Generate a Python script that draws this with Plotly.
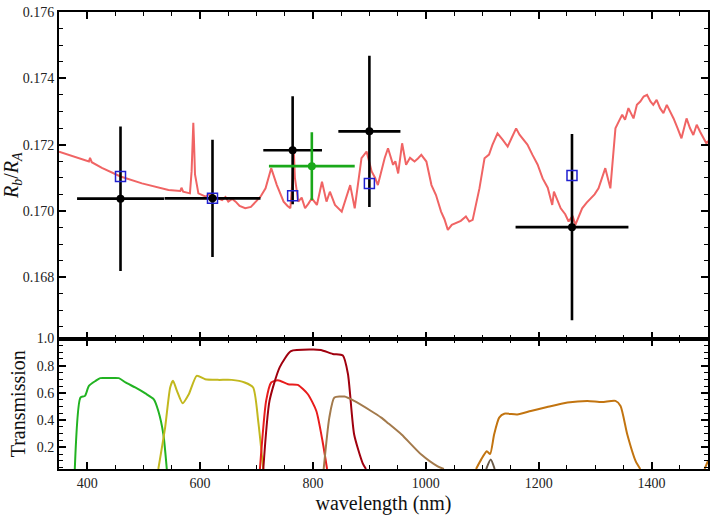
import plotly.graph_objects as go
from plotly.subplots import make_subplots

# ---------------- data ----------------
# model spectrum (wavelength nm, Rb/RA)
spec_wl = [350, 403, 405, 408, 426, 459, 497, 544, 565, 567, 570, 582, 585, 587, 588, 589, 591, 597,
           610, 615, 632, 639, 645, 650, 657, 663, 670, 680, 690, 698, 707, 716, 726, 736, 742, 748,
           755, 760, 764, 766, 768, 774, 780, 786, 792, 798,
           807, 816, 824, 830, 839, 851, 866, 874, 886, 895, 904, 910, 915, 921, 927, 933, 937, 942,
           946, 951, 958, 965, 972, 980, 986, 992, 1001, 1010, 1018, 1027, 1033, 1039, 1046, 1054,
           1062, 1071, 1077, 1083, 1095, 1104, 1112, 1118, 1127, 1136, 1145, 1152,
           1160, 1166, 1171, 1180, 1189, 1198, 1207, 1216, 1224, 1227, 1239, 1247, 1253, 1260, 1265,
           1272, 1277, 1285, 1292, 1299, 1306, 1318, 1327, 1336, 1342,
           1348, 1353, 1359, 1368, 1374, 1380, 1386, 1392, 1398, 1403, 1409, 1415, 1421, 1427, 1433,
           1439, 1446, 1453, 1462, 1468, 1474, 1480, 1486, 1492, 1497, 1503]
spec_val = [0.17179, 0.17149, 0.17160, 0.17147, 0.17130, 0.17104, 0.17083, 0.17063, 0.17060, 0.17070,
            0.17058, 0.17053, 0.17120, 0.17220, 0.17266, 0.17220, 0.17110, 0.17053,
            0.17043, 0.17050, 0.17038, 0.17033, 0.17042, 0.17028, 0.17036, 0.17028, 0.17015, 0.17008,
            0.17012, 0.17028, 0.17043, 0.17068, 0.17129, 0.17078, 0.17050, 0.17028,
            0.17015, 0.17008, 0.17100, 0.17185, 0.17100, 0.17028, 0.17040, 0.17008, 0.17022, 0.17038,
            0.17018, 0.17088, 0.17028, 0.17058, 0.17018, 0.16998, 0.17078, 0.17008, 0.17159, 0.17179,
            0.17119, 0.17100, 0.17078, 0.17120, 0.17159, 0.17189, 0.17165, 0.17139,
            0.17150, 0.17113, 0.17204, 0.17139, 0.17160, 0.17149, 0.17158, 0.17169, 0.17149, 0.17078,
            0.17048, 0.16998, 0.16975, 0.16943, 0.16958, 0.16963,
            0.16970, 0.16983, 0.16968, 0.16973, 0.17068, 0.17159, 0.17170, 0.17199, 0.17234, 0.17215,
            0.17194, 0.17220,
            0.17249, 0.17230, 0.17219, 0.17200, 0.17169, 0.17140, 0.17098, 0.17070, 0.17018, 0.17058,
            0.17008, 0.16990, 0.16968, 0.16985, 0.16958,
            0.16990, 0.17008, 0.17025, 0.17038, 0.17050, 0.17068, 0.17129, 0.17068, 0.17249, 0.17270,
            0.17290, 0.17275, 0.17310, 0.17279, 0.17320, 0.17330, 0.17345, 0.17350, 0.17330, 0.17320,
            0.17335, 0.17310, 0.17295, 0.17320, 0.17300,
            0.17279, 0.17250, 0.17219, 0.17279, 0.17250, 0.17229, 0.17260, 0.17239, 0.17220, 0.17204,
            0.17215]

# measured points
obs_wl = [459, 622, 764, 900, 1259]
obs_val = [0.17037, 0.17038, 0.17183, 0.17240, 0.16951]
obs_yerr = [0.00218, 0.00177, 0.00163, 0.00228, 0.00281]
obs_xerr = [77, 85, 52, 55, 100]

green_wl = [798]
green_val = [0.17135]
green_yerr = [0.00102]
green_xerr = [76]

# band-integrated model
model_wl = [459, 622, 764, 900, 1259]
model_val = [0.17104, 0.17038, 0.17046, 0.17083, 0.17107]

# filter transmission curves
f_green_wl = [378, 388, 396, 403, 415, 423, 438, 456, 468, 485, 503, 518, 526, 535, 541]
f_green_t = [0.04, 0.566, 0.578, 0.652, 0.689, 0.709, 0.709, 0.709, 0.677, 0.640, 0.596, 0.553, 0.467, 0.294, 0.04]

f_yellow_wl = [526, 538, 547, 552, 559, 569, 580, 594, 609, 632, 656, 679, 694, 703, 712]
f_yellow_t = [0.04, 0.344, 0.640, 0.689, 0.615, 0.524, 0.590, 0.726, 0.701, 0.696, 0.696, 0.677, 0.640, 0.393, 0.04]

f_red_wl = [706, 717, 726, 738, 756, 773, 791, 806, 817, 825]
f_red_t = [0.04, 0.541, 0.677, 0.694, 0.664, 0.659, 0.590, 0.467, 0.244, 0.04]

f_dred_wl = [712, 723, 741, 761, 797, 814, 835, 853, 862, 873, 888, 894]
f_dred_t = [0.04, 0.541, 0.788, 0.907, 0.919, 0.916, 0.887, 0.875, 0.739, 0.294, 0.084, 0.04]

f_brown_wl = [819, 829, 838, 856, 873, 903, 921, 932, 957, 992, 1021, 1032]
f_brown_t = [0.04, 0.418, 0.566, 0.573, 0.541, 0.467, 0.418, 0.381, 0.294, 0.146, 0.059, 0.04]

f_gray_wl = [1107, 1115, 1122]
f_gray_t = [0.04, 0.11, 0.04]

f_orange_wl = [1089, 1098, 1108, 1114, 1121, 1130, 1139, 1162, 1186, 1215, 1251, 1286, 1312, 1336,
               1345, 1357, 1372, 1380]
f_orange_t = [0.04, 0.109, 0.170, 0.151, 0.294, 0.418, 0.447, 0.442, 0.467, 0.496, 0.529, 0.541,
              0.533, 0.541, 0.504, 0.294, 0.096, 0.04]
f_orange2_wl = [1494, 1500]
f_orange2_t = [0.04, 0.10]

x_ticks = [400, 600, 800, 1000, 1200, 1400]
y1_ticks = [0.168, 0.170, 0.172, 0.174, 0.176]
y2_ticks = [0.2, 0.4, 0.6, 0.8, 1.0]
y2_ticktext = ["0.2", "0.4", "0.6", "0.8", "1.0"]

# ---------------- figure ----------------
fig = make_subplots(rows=2, cols=1, shared_xaxes=True, vertical_spacing=0,
                    row_heights=[0.7146, 0.2854])

fig.add_trace(go.Scatter(x=spec_wl, y=spec_val, mode="lines",
                         line=dict(color="#f06464", width=2), hoverinfo="skip"), row=1, col=1)

fig.add_trace(go.Scatter(x=obs_wl, y=obs_val, mode="markers",
                         marker=dict(color="black", size=8),
                         error_y=dict(type="data", array=obs_yerr, color="black", thickness=2.6, width=0),
                         error_x=dict(type="data", array=obs_xerr, color="black", thickness=2.6, width=0)),
              row=1, col=1)

fig.add_trace(go.Scatter(x=green_wl, y=green_val, mode="markers",
                         marker=dict(color="#1aa81a", size=8),
                         error_y=dict(type="data", array=green_yerr, color="#1aa81a", thickness=2.6, width=0),
                         error_x=dict(type="data", array=green_xerr, color="#1aa81a", thickness=2.6, width=0)),
              row=1, col=1)

fig.add_trace(go.Scatter(x=model_wl, y=model_val, mode="markers",
                         marker=dict(symbol="square-open", color="#2020d0", size=10,
                                     line=dict(width=1.5, color="#2020d0"))),
              row=1, col=1)

filters = [
    (f_green_wl, f_green_t, "#22b322"),
    (f_yellow_wl, f_yellow_t, "#c2b81e"),
    (f_red_wl, f_red_t, "#e81c1c"),
    (f_dred_wl, f_dred_t, "#a0000e"),
    (f_brown_wl, f_brown_t, "#a37a4c"),
    (f_gray_wl, f_gray_t, "#6a5a48"),
    (f_orange_wl, f_orange_t, "#c27410"),
    (f_orange2_wl, f_orange2_t, "#c27410"),
]
for wl, t, c in filters:
    fig.add_trace(go.Scatter(x=wl, y=t, mode="lines", line=dict(color=c, width=2, shape="spline",
                                                               smoothing=0.6),
                             hoverinfo="skip"), row=2, col=1)

font_family = "Liberation Serif, Times New Roman, serif"
axis_common = dict(showline=True, linecolor="black", linewidth=2, mirror="allticks",
                   ticks="inside", ticklen=7, tickwidth=1.5, tickcolor="black",
                   showgrid=False, zeroline=False,
                   tickfont=dict(family=font_family, size=14, color="#222"))

fig.update_xaxes(range=[350, 1500], tickvals=x_ticks, **axis_common,
                 minor=dict(dtick=50, ticks="inside", ticklen=4, tickcolor="black", tickwidth=1))
fig.update_xaxes(showticklabels=False, row=1, col=1)
fig.update_xaxes(title=dict(text="wavelength (nm)", font=dict(family=font_family, size=20, color="#111"),
                            standoff=6), row=2, col=1)

fig.update_yaxes(range=[0.16615, 0.1760], tickvals=y1_ticks, tickformat=".3f", **axis_common,
                 minor=dict(dtick=0.0005, ticks="inside", ticklen=4, tickcolor="black", tickwidth=1),
                 title=dict(text="<i>R</i><sub><i>b</i></sub>/<i>R</i><sub><i>A</i></sub>",
                            font=dict(family=font_family, size=20, color="#111"), standoff=4),
                 row=1, col=1)
fig.update_yaxes(range=[0.04, 1.0], tickvals=y2_ticks, ticktext=y2_ticktext, **axis_common,
                 minor=dict(dtick=0.05, ticks="inside", ticklen=4, tickcolor="black", tickwidth=1),
                 title=dict(text="Transmission", font=dict(family=font_family, size=20, color="#111"),
                            standoff=6),
                 row=2, col=1)

fig.update_layout(width=715, height=524, showlegend=False,
                  margin=dict(l=56, r=5, t=10, b=55),
                  paper_bgcolor="white", plot_bgcolor="white",
                  font=dict(family=font_family))

fig.write_html("out.html")
